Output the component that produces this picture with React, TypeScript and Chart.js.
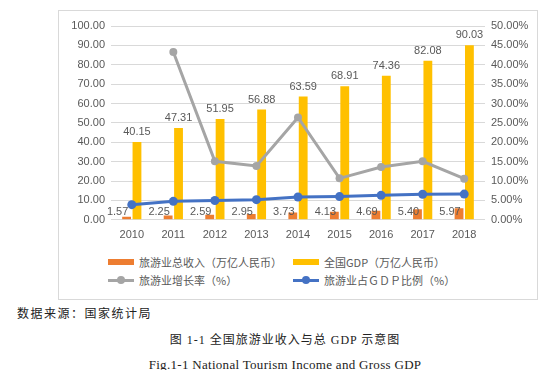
import React, { useEffect, useRef } from "react";
import { Chart, registerables } from "chart.js";

Chart.register(...registerables);

const years = ["2010", "2011", "2012", "2013", "2014", "2015", "2016", "2017", "2018"];
const tourismIncome = [1.57, 2.25, 2.59, 2.95, 3.73, 4.13, 4.69, 5.4, 5.97];
const nationalGdp = [40.15, 47.31, 51.95, 56.88, 63.59, 68.91, 74.36, 82.08, 90.03];
const growthRate = [null, 43.3, 15.1, 13.9, 26.4, 10.7, 13.6, 15.1, 10.6];
const gdpShare = [3.9, 4.76, 4.99, 5.19, 5.87, 5.99, 6.31, 6.58, 6.63];

const seriesNames = ["旅游业总收入（万亿人民币）", "全国GDP（万亿人民币）", "旅游业增长率（%）", "旅游业占ＧＤＰ比例（%）"];
const colors = { orange: "#ED7D31", yellow: "#FFC000", gray: "#A5A5A5", blue: "#4472C4" };
const TEXT = "#595959";
const FONT = "'Liberation Sans', 'Noto Sans CJK SC', sans-serif";

const labelPlugin = {
  id: "barLabels",
  afterDatasetsDraw(chart: any) {
    const ctx = chart.ctx;
    ctx.save();
    ctx.font = "11px " + FONT;
    ctx.fillStyle = TEXT;
    ctx.textAlign = "center";
    ctx.textBaseline = "middle";
    const m0 = chart.getDatasetMeta(0);
    m0.data.forEach((el: any, i: number) => {
      ctx.fillText(tourismIncome[i].toFixed(2), el.x - 9, el.base - 7);
    });
    const m1 = chart.getDatasetMeta(1);
    m1.data.forEach((el: any, i: number) => {
      ctx.fillText(nationalGdp[i].toFixed(2), el.x, el.y - 10);
    });
    ctx.restore();
  },
};

function LegendItem({ kind, color, text }: { kind: string; color: string; text: string }) {
  return (
    <div style={{ display: "flex", alignItems: "center", height: 18 }}>
      <div style={{ position: "relative", width: 26, height: 10, marginRight: 5 }}>
        {kind === "bar" ? (
          <div style={{ position: "absolute", left: 0, top: 2, width: 26, height: 6, background: color }} />
        ) : (
          <>
            <div style={{ position: "absolute", left: 0, top: 3.5, width: 26, height: 3, background: color }} />
            <div style={{ position: "absolute", left: 9, top: 1, width: 8, height: 8, borderRadius: 4, background: color }} />
          </>
        )}
      </div>
      <span style={{ fontSize: 11, color: TEXT, fontFamily: "'Noto Sans CJK SC', sans-serif", whiteSpace: "nowrap" }}>{text}</span>
    </div>
  );
}

export default function App() {
  const ref = useRef<HTMLCanvasElement>(null);
  useEffect(() => {
    if (!ref.current) return;
    const chart = new Chart(ref.current, {
      type: "bar",
      data: {
        labels: years,
        datasets: [
          { type: "bar", label: seriesNames[0], data: tourismIncome, backgroundColor: colors.orange, yAxisID: "y", order: 2, categoryPercentage: 0.5, barPercentage: 0.85 },
          { type: "bar", label: seriesNames[1], data: nationalGdp, backgroundColor: colors.yellow, yAxisID: "y", order: 2, categoryPercentage: 0.5, barPercentage: 0.85 },
          { type: "line", label: seriesNames[2], data: growthRate as any, borderColor: colors.gray, backgroundColor: colors.gray, borderWidth: 3, pointRadius: 4, pointBorderWidth: 0, yAxisID: "y1", order: 1 },
          { type: "line", label: seriesNames[3], data: gdpShare, borderColor: colors.blue, backgroundColor: colors.blue, borderWidth: 3, pointRadius: 4.5, pointBorderWidth: 0, yAxisID: "y1", order: 0 },
        ] as any,
      },
      options: {
        animation: false,
        responsive: false,
        maintainAspectRatio: false,
        layout: { padding: { top: 15, left: 0, right: 0, bottom: 0 } },
        plugins: { legend: { display: false }, tooltip: { enabled: false } },
        scales: {
          x: {
            grid: { display: false },
            border: { display: false },
            ticks: { color: TEXT, font: { size: 11, family: FONT }, padding: 1 },
          },
          y: {
            position: "left",
            min: 0,
            max: 100,
            ticks: { stepSize: 10, color: TEXT, font: { size: 11, family: FONT }, callback: (v: any) => Number(v).toFixed(2), padding: 6 },
            grid: { color: "#D9D9D9", drawTicks: false },
            border: { display: false },
            afterFit: (s: any) => { s.width = 52; },
          },
          y1: {
            position: "right",
            min: 0,
            max: 50,
            ticks: { stepSize: 5, color: TEXT, font: { size: 11, family: FONT }, callback: (v: any) => Number(v).toFixed(2) + "%", padding: 6 },
            grid: { display: false, drawTicks: false },
            border: { display: false },
            afterFit: (s: any) => { s.width = 52; },
          },
        },
      } as any,
      plugins: [labelPlugin],
    });
    return () => chart.destroy();
  }, []);

  return (
    <div style={{ position: "relative", width: 530, height: 362 }}>
      <div style={{ position: "absolute", left: 50, top: 2, width: 478, height: 288, border: "1px solid #D9D9D9", background: "#fff" }}>
        <canvas ref={ref} width={478} height={232} style={{ display: "block" }} />
        <div style={{ position: "absolute", left: 49, top: 242 }}>
          <LegendItem kind="bar" color={colors.orange} text={seriesNames[0]} />
          <LegendItem kind="line" color={colors.gray} text={seriesNames[2]} />
        </div>
        <div style={{ position: "absolute", left: 234, top: 242 }}>
          <LegendItem kind="bar" color={colors.yellow} text={seriesNames[1]} />
          <LegendItem kind="line" color={colors.blue} text={seriesNames[3]} />
        </div>
      </div>
      <div style={{ position: "absolute", left: 9, top: 296, fontSize: 12, letterSpacing: 1.5, fontFamily: "'Noto Sans CJK SC', serif", color: "#222" }}>数据来源：国家统计局</div>
      <div style={{ position: "absolute", left: 0, width: 554, top: 322, textAlign: "center", fontSize: 12, letterSpacing: 1, fontFamily: "'Liberation Serif', 'Noto Sans CJK SC', serif", color: "#222" }}>图 1-1  全国旅游业收入与总 GDP 示意图</div>
      <div style={{ position: "absolute", left: 0, width: 554, top: 349, textAlign: "center", fontSize: 13, letterSpacing: 0.3, fontFamily: "'Liberation Serif', serif", color: "#222" }}>Fig.1-1 National Tourism Income and Gross GDP</div>
    </div>
  );
}
